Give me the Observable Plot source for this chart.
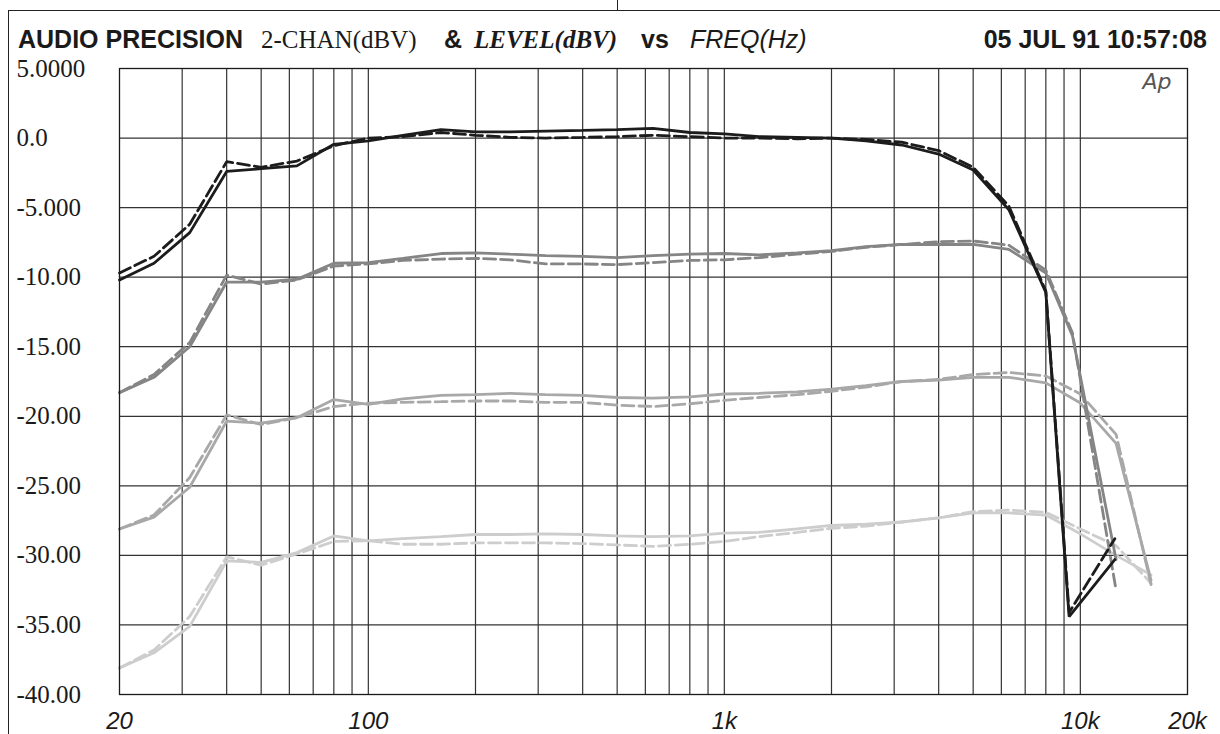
<!DOCTYPE html>
<html><head><meta charset="utf-8">
<script src="https://cdn.jsdelivr.net/npm/d3@7"></script>
<script src="https://cdn.jsdelivr.net/npm/@observablehq/plot@0.6"></script>
<style>
body{margin:0;background:#fff;}
#wrap{position:relative;width:1220px;height:734px;overflow:hidden;background:#fff;}
.t{position:absolute;top:27px;font-size:25px;line-height:25px;white-space:nowrap;color:#1a1a1a;}
.sans{font-family:"Liberation Sans",Arial,sans-serif;}
.serif{font-family:"Liberation Serif","Times New Roman",serif;}
#frameTop{position:absolute;left:8px;top:10px;width:1212px;height:0;border-top:1.5px solid #222;}
#frameLeft{position:absolute;left:8px;top:10px;width:0;height:724px;border-left:1.5px solid #222;}
#tick{position:absolute;left:617px;top:0;width:0;height:10px;border-left:1.5px solid #222;}
#chart{position:absolute;left:0;top:0;}
</style>
</head><body>
<div id="wrap">
  <div id="chart"></div>
  <div id="frameTop"></div><div id="frameLeft"></div><div id="tick"></div>
  <div class="t sans" style="left:18px;font-weight:bold;">AUDIO PRECISION</div>
  <div class="t serif" style="left:261px;">2-CHAN(dBV)</div>
  <div class="t sans" style="left:444px;font-weight:bold;">&amp;</div>
  <div class="t serif" style="left:474px;font-weight:bold;font-style:italic;">LEVEL(dBV)</div>
  <div class="t sans" style="left:641px;font-weight:bold;">vs</div>
  <div class="t sans" style="left:690px;font-style:italic;">FREQ(Hz)</div>
  <div class="t sans" style="right:13px;font-weight:bold;">05 JUL 91 10:57:08</div>
</div>
<script>
// 1/3-octave sweep points (Hz), 20 Hz .. 8 kHz
const freqs = [20,25,31.5,40,50,63,80,100,125,160,200,250,315,400,500,630,800,1000,1250,1600,2000,2500,3150,4000,5000,6300,8000];

// Series 1 (black)
const s1Solid  = [-10.2,-9.0,-6.8,-2.4,-2.2,-2.0,-0.45,-0.2,0.2,0.6,0.45,0.45,0.5,0.55,0.6,0.7,0.4,0.3,0.1,0.05,0.0,-0.2,-0.5,-1.15,-2.3,-5.15,-11.1];
const s1Dashed = [-9.7,-8.5,-6.2,-1.7,-2.1,-1.65,-0.55,0.0,0.1,0.4,0.2,0.05,0.0,0.05,0.1,0.2,0.1,0.0,0.0,-0.05,0.0,-0.1,-0.3,-0.9,-2.1,-4.9,-11.0];
const s1TailFreq = [9300,12500];
const s1SolidTail = [-34.4,-30.3];
const s1DashedTail = [-34.1,-28.8];

// Series 2 (mid grey)
const s2Solid  = [-18.3,-17.2,-15.0,-10.35,-10.35,-10.15,-9.0,-8.95,-8.65,-8.3,-8.25,-8.35,-8.45,-8.5,-8.6,-8.45,-8.35,-8.3,-8.4,-8.25,-8.1,-7.8,-7.65,-7.65,-7.65,-8.0,-9.7];
const s2Dashed = [-18.3,-17.0,-14.7,-9.85,-10.5,-10.2,-9.2,-9.05,-8.8,-8.7,-8.65,-8.75,-9.05,-9.05,-9.1,-8.95,-8.8,-8.75,-8.6,-8.35,-8.15,-7.85,-7.65,-7.45,-7.4,-7.7,-9.5];
const s2TailFreq = [9500,12600];
const s2SolidTail = [-14.2,-30.3];
const s2DashedTail = [-14.0,-32.5];

// Series 3 (light grey)
const s3Solid  = [-28.1,-27.25,-25.1,-20.35,-20.5,-20.1,-18.8,-19.15,-18.75,-18.5,-18.45,-18.35,-18.45,-18.5,-18.65,-18.7,-18.6,-18.4,-18.35,-18.25,-18.05,-17.8,-17.5,-17.4,-17.2,-17.2,-17.6];
const s3Dashed = [-28.1,-27.1,-24.4,-19.9,-20.6,-20.1,-19.3,-19.05,-19.0,-18.95,-18.9,-18.9,-19.0,-19.0,-19.2,-19.3,-19.1,-18.85,-18.65,-18.45,-18.2,-17.9,-17.5,-17.35,-17.0,-16.85,-17.1];
const s3TailFreq = [10000,12600,15800];
const s3SolidTail = [-19.05,-21.95,-31.8];
const s3DashedTail = [-18.4,-21.3,-32.1];

// Series 4 (lightest grey)
const s4Solid  = [-38.1,-37.0,-35.1,-30.4,-30.5,-29.8,-28.6,-28.95,-28.8,-28.65,-28.5,-28.5,-28.45,-28.5,-28.6,-28.65,-28.6,-28.4,-28.35,-28.1,-27.85,-27.75,-27.6,-27.3,-26.95,-26.95,-27.1];
const s4Dashed = [-38.1,-36.8,-34.4,-30.1,-30.7,-29.9,-29.0,-28.95,-29.2,-29.2,-29.1,-29.1,-29.1,-29.15,-29.25,-29.35,-29.2,-29.0,-28.65,-28.35,-28.05,-27.9,-27.6,-27.3,-26.85,-26.75,-26.9];
const s4TailFreq = [10000,12600,15800];
const s4SolidTail = [-28.45,-30.0,-31.4];
const s4DashedTail = [-28.1,-29.3,-32.0];

// Axes
const xTicks = [20,100,1000,10000,20000];
const xTickLabels = ["20","100","1k","10k","20k"];
const yTicks = [5,0,-5,-10,-15,-20,-25,-30,-35,-40];
const yTickLabels = ["5.0000","0.0","-5.000","-10.00","-15.00","-20.00","-25.00","-30.00","-35.00","-40.00"];
const gridFreqs = [30,40,50,60,70,80,90,100,200,300,400,500,600,700,800,900,1000,2000,3000,4000,5000,6000,7000,8000,9000,10000];
const gridLevels = [0,-5,-10,-15,-20,-25,-30,-35];

const xLab = new Map(xTicks.map((d,i)=>[d,xTickLabels[i]]));
const yLab = new Map(yTicks.map((d,i)=>[d,yTickLabels[i]]));

function build(vals, tailF, tailV){
  const pts = freqs.map((f,i)=>({f, v: vals[i]}));
  tailF.forEach((f,i)=>pts.push({f, v: tailV[i]}));
  return pts;
}
const series = [
  {d: build(s4Solid, s4TailFreq, s4SolidTail), c:"#cdcdcd", dash:null},
  {d: build(s4Dashed, s4TailFreq, s4DashedTail), c:"#cdcdcd", dash:"12,5"},
  {d: build(s3Solid, s3TailFreq, s3SolidTail), c:"#a8a8a8", dash:null},
  {d: build(s3Dashed, s3TailFreq, s3DashedTail), c:"#a8a8a8", dash:"12,5"},
  {d: build(s2Solid, s2TailFreq, s2SolidTail), c:"#858585", dash:null},
  {d: build(s2Dashed, s2TailFreq, s2DashedTail), c:"#858585", dash:"12,5"},
  {d: build(s1Solid, s1TailFreq, s1SolidTail), c:"#1c1c1c", dash:null},
  {d: build(s1Dashed, s1TailFreq, s1DashedTail), c:"#1c1c1c", dash:"12,5"}
];

const chart = Plot.plot({
  width:1220, height:734,
  marginLeft:119, marginRight:33, marginTop:68, marginBottom:40,
  x:{type:"log", domain:[20,20000]},
  y:{domain:[-40,5]},
  style:{background:"transparent", overflow:"visible", fontFamily:"Liberation Sans, Arial, sans-serif"},
  marks:[
    Plot.gridX(gridFreqs, {stroke:"#333", strokeOpacity:1, strokeWidth:1.2}),
    Plot.gridY(gridLevels, {stroke:"#333", strokeOpacity:1, strokeWidth:1.2}),
    ...series.map(s => Plot.line(s.d, {x:"f", y:"v", stroke:s.c, strokeWidth:2.8, strokeDasharray:s.dash, strokeLinejoin:"miter"})),
    Plot.frame({stroke:"#1a1a1a", strokeWidth:1.3}),
    Plot.axisX(xTicks, {tickSize:0, tickPadding:17, tickFormat:d=>xLab.get(d), fontSize:24, fontStyle:"italic", fontFamily:"Liberation Sans, Arial, sans-serif", fill:"#1a1a1a", label:null}),
    Plot.axisY(yTicks, {tickSize:0, tickPadding:0, textAnchor:"start", dx:-103, tickFormat:d=>yLab.get(d), fontSize:25, fontFamily:"Liberation Serif, Times New Roman, serif", fill:"#1a1a1a", label:null}),
    Plot.text(["Ap"], {frameAnchor:"top-right", textAnchor:"end", lineAnchor:"top", dx:-16, dy:5, fontSize:22, fontStyle:"italic", fontWeight:200, fontFamily:"DejaVu Sans, sans-serif", fill:"#555"})
  ]
});
document.getElementById("chart").appendChild(chart);
</script>
</body></html>
